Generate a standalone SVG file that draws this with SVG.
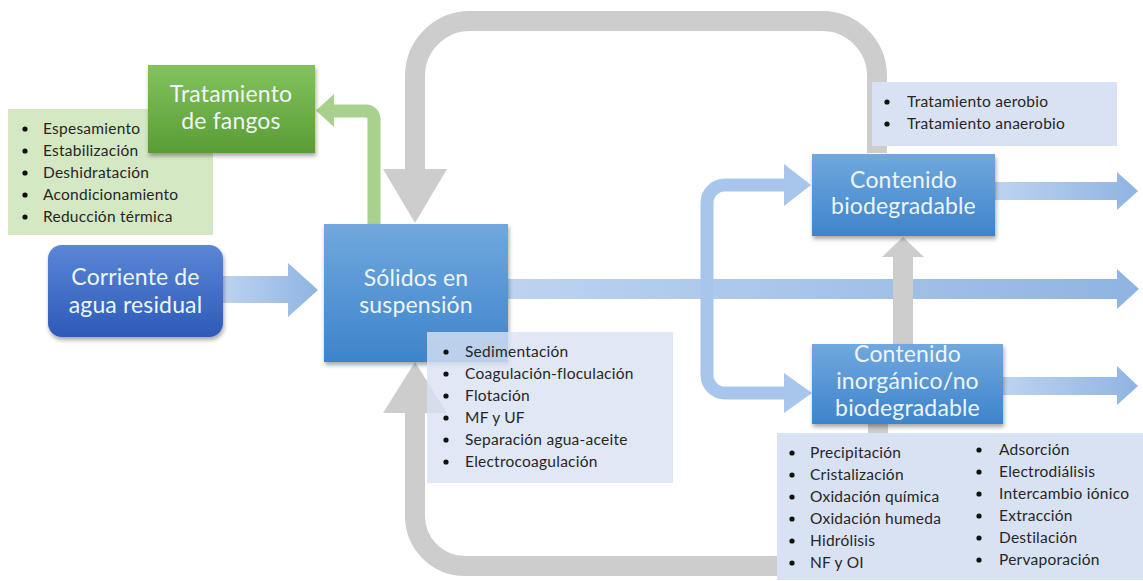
<svg xmlns="http://www.w3.org/2000/svg" width="1143" height="581" viewBox="0 0 1143 581">
  <defs>
    <linearGradient id="gBlue" x1="0" y1="0" x2="0" y2="1">
      <stop offset="0" stop-color="#71a8de"/>
      <stop offset="1" stop-color="#3d84cb"/>
    </linearGradient>
    <linearGradient id="gDark" x1="0" y1="0" x2="0" y2="1">
      <stop offset="0" stop-color="#5b86d7"/>
      <stop offset="1" stop-color="#2d5ab7"/>
    </linearGradient>
    <linearGradient id="gGreen" x1="0" y1="0" x2="0" y2="1">
      <stop offset="0" stop-color="#83c35d"/>
      <stop offset="1" stop-color="#5a9c34"/>
    </linearGradient>
    <linearGradient id="gFlow" x1="0" y1="0" x2="1" y2="0">
      <stop offset="0" stop-color="#bdd3f0"/>
      <stop offset="1" stop-color="#8fb4e2"/>
    </linearGradient>
    <filter id="shadow" x="-10%" y="-10%" width="125%" height="135%">
      <feDropShadow dx="1" dy="3" stdDeviation="2" flood-color="#000" flood-opacity="0.35"/>
    </filter>
  </defs>
  <style>
    .label { font-family: Lato, "Open Sans", sans-serif; font-size: 23px; letter-spacing: 0.15px; fill: #eef4fc; text-anchor: middle; }
    .item { font-family: Lato, "Open Sans", sans-serif; font-size: 15.5px; letter-spacing: 0.25px; fill: #262626; }
    .bullet { fill: #111111; }
    .list { fill: #d9e2f3; }
    .loop { fill: none; stroke: #cdcdcd; stroke-width: 20; }
    .loophead { fill: #cdcdcd; }
    .branch { fill: none; stroke: #a8c6eb; stroke-width: 13; }
    .branchhead { fill: #a8c6eb; }
    .flow { fill: url(#gFlow); }
  </style>

  <!-- connectors -->
  <g id="connectors">
    <!-- main horizontal stream from the solids stage -->
    <polygon class="flow" points="508,279 1117,279 1117,269 1139,289 1117,309 1117,299 508,299"/>
    <!-- split towards the two treatment families -->
    <path class="branch" d="M784 185 H725 A18 18 0 0 0 707 203 V375 A18 18 0 0 0 725 393 H784"/>
    <polygon class="branchhead" points="784,164 811,185 784,206"/>
    <polygon class="branchhead" points="784,373 812,393 784,413"/>
    <!-- inlet -->
    <polygon class="flow" points="223,276 288,276 288,263 318,290 288,317 288,303 223,303"/>
    <!-- outlets -->
    <polygon class="flow" points="995,182 1117,182 1117,172 1138,191 1117,210 1117,200 995,200"/>
    <polygon class="flow" points="1003,377 1117,377 1117,366 1138,386 1117,405 1117,395 1003,395"/>
    <!-- sludge line -->
    <path d="M374 224 V119 A8 8 0 0 0 366 111 H332" fill="none" stroke="#a9d18e" stroke-width="13"/>
    <polygon points="334,94 316,110.5 334,127" fill="#a9d18e"/>
    <!-- recycle loops -->
    <path class="loop" d="M877 153 V76 A55 55 0 0 0 822 21 H470 A55 55 0 0 0 415 76 V170"/>
    <polygon class="loophead" points="383,169 447,169 415,223"/>
    <path class="loop" d="M878 424 V516 A50 50 0 0 1 828 566 H465 A50 50 0 0 1 415 516 V412"/>
    <polygon class="loophead" points="383,413 447,413 415,362"/>
    <path class="loop" d="M903 344 V256"/>
    <polygon class="loophead" points="882,257 924,257 903,237"/>
  </g>

  <!-- sludge treatment operations -->
  <g id="list-fangos">
    <rect x="8" y="109" width="205" height="126" fill="#d5e8c4"/>
    <g class="bullet">
      <circle cx="25" cy="129" r="2.6"/>
      <circle cx="25" cy="151" r="2.6"/>
      <circle cx="25" cy="173" r="2.6"/>
      <circle cx="25" cy="195" r="2.6"/>
      <circle cx="25" cy="217" r="2.6"/>
    </g>
    <text class="item" x="43" y="134">Espesamiento</text>
    <text class="item" x="43" y="156">Estabilización</text>
    <text class="item" x="43" y="178">Deshidratación</text>
    <text class="item" x="43" y="200">Acondicionamiento</text>
    <text class="item" x="43" y="222">Reducción térmica</text>
  </g>

  <g id="node-fangos">
    <rect x="148" y="65" width="167" height="88" fill="url(#gGreen)" filter="url(#shadow)"/>
    <text class="label" x="231" y="102">Tratamiento</text>
    <text class="label" x="231" y="129">de fangos</text>
  </g>

  <g id="node-corriente">
    <rect x="48" y="245" width="175" height="92" rx="14" fill="url(#gDark)" filter="url(#shadow)"/>
    <text class="label" x="135.5" y="285">Corriente de</text>
    <text class="label" x="135.5" y="313">agua residual</text>
  </g>

  <g id="node-solidos">
    <rect x="324" y="224" width="184" height="138" fill="url(#gBlue)" filter="url(#shadow)"/>
    <text class="label" x="416" y="286">Sólidos en</text>
    <text class="label" x="416" y="313">suspensión</text>
  </g>

  <g id="list-solidos">
    <rect class="list" x="427" y="332" width="246" height="151" opacity="0.8"/>
    <g class="bullet">
      <circle cx="446" cy="352" r="2.6"/>
      <circle cx="446" cy="374" r="2.6"/>
      <circle cx="446" cy="396" r="2.6"/>
      <circle cx="446" cy="418" r="2.6"/>
      <circle cx="446" cy="440" r="2.6"/>
      <circle cx="446" cy="462" r="2.6"/>
    </g>
    <text class="item" x="465" y="357">Sedimentación</text>
    <text class="item" x="465" y="379">Coagulación-floculación</text>
    <text class="item" x="465" y="401">Flotación</text>
    <text class="item" x="465" y="423">MF y UF</text>
    <text class="item" x="465" y="445">Separación agua-aceite</text>
    <text class="item" x="465" y="467">Electrocoagulación</text>
  </g>

  <g id="list-biologico">
    <rect class="list" x="872" y="82" width="245" height="64"/>
    <g class="bullet">
      <circle cx="887" cy="102" r="2.6"/>
      <circle cx="887" cy="124" r="2.6"/>
    </g>
    <text class="item" x="907" y="107">Tratamiento aerobio</text>
    <text class="item" x="907" y="129">Tratamiento anaerobio</text>
  </g>

  <g id="node-biodegradable">
    <rect x="812" y="154" width="183" height="82" fill="url(#gBlue)" filter="url(#shadow)"/>
    <text class="label" x="903.5" y="188">Contenido</text>
    <text class="label" x="903.5" y="214">biodegradable</text>
  </g>

  <g id="node-inorganico">
    <rect x="812" y="344" width="191" height="80" fill="url(#gBlue)" filter="url(#shadow)"/>
    <text class="label" x="907.5" y="362">Contenido</text>
    <text class="label" x="907.5" y="389">inorgánico/no</text>
    <text class="label" x="907.5" y="416">biodegradable</text>
  </g>

  <g id="list-fisicoquimico">
    <rect class="list" x="777" y="433" width="366" height="147"/>
    <g class="bullet">
      <circle cx="792" cy="453" r="2.6"/>
      <circle cx="792" cy="475" r="2.6"/>
      <circle cx="792" cy="497" r="2.6"/>
      <circle cx="792" cy="519" r="2.6"/>
      <circle cx="792" cy="541" r="2.6"/>
      <circle cx="792" cy="563" r="2.6"/>
      <circle cx="979" cy="450" r="2.6"/>
      <circle cx="979" cy="472" r="2.6"/>
      <circle cx="979" cy="494" r="2.6"/>
      <circle cx="979" cy="516" r="2.6"/>
      <circle cx="979" cy="538" r="2.6"/>
      <circle cx="979" cy="560" r="2.6"/>
    </g>
    <text class="item" x="810" y="458">Precipitación</text>
    <text class="item" x="810" y="480">Cristalización</text>
    <text class="item" x="810" y="502">Oxidación química</text>
    <text class="item" x="810" y="524">Oxidación humeda</text>
    <text class="item" x="810" y="546">Hidrólisis</text>
    <text class="item" x="810" y="568">NF y OI</text>
    <text class="item" x="999" y="455">Adsorción</text>
    <text class="item" x="999" y="477">Electrodiálisis</text>
    <text class="item" x="999" y="499">Intercambio iónico</text>
    <text class="item" x="999" y="521">Extracción</text>
    <text class="item" x="999" y="543">Destilación</text>
    <text class="item" x="999" y="565">Pervaporación</text>
  </g>
</svg>
